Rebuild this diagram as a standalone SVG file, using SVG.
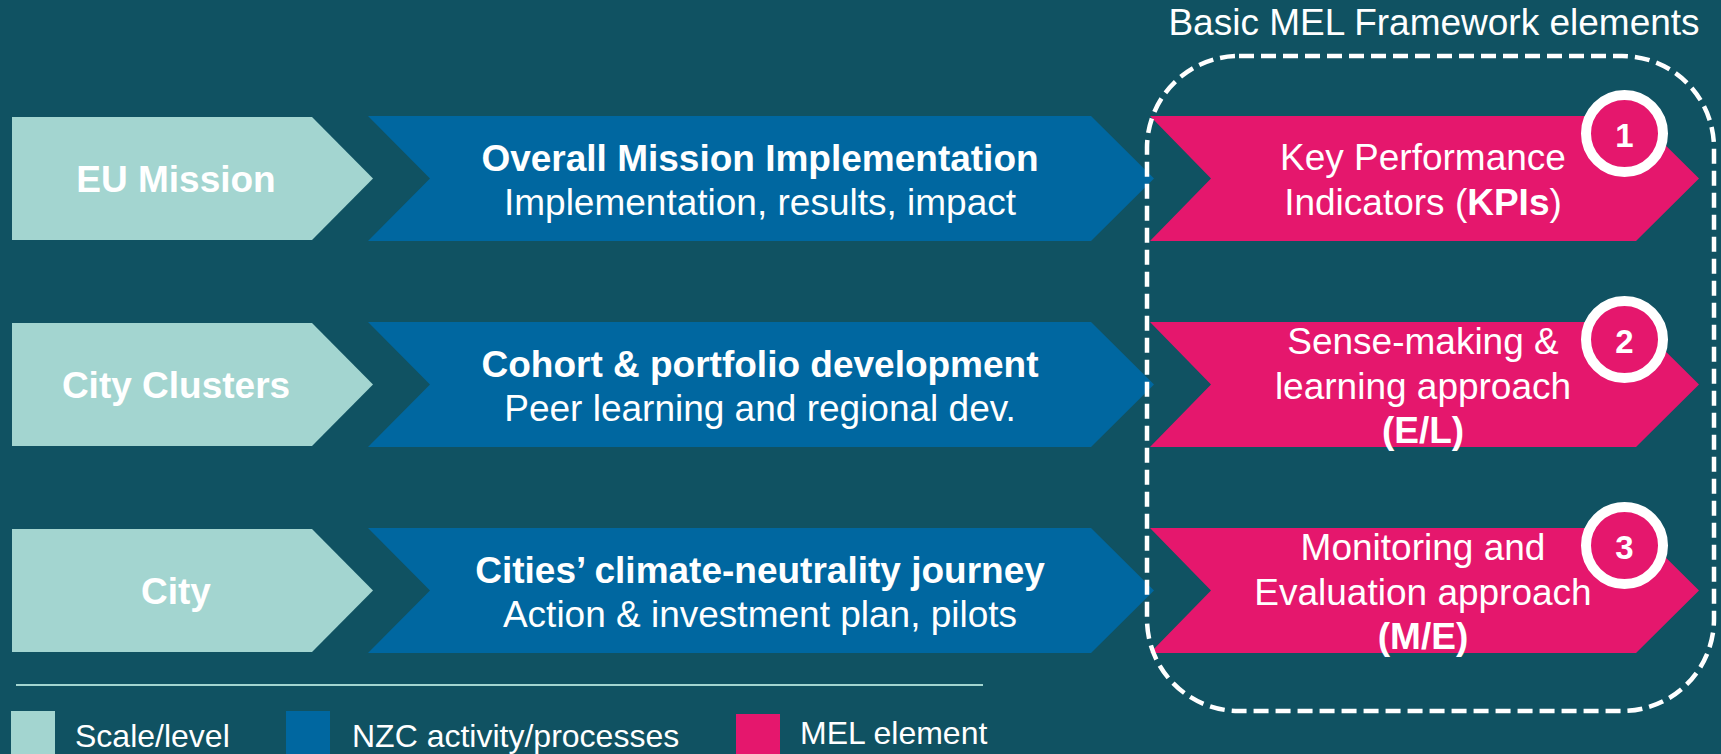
<svg xmlns="http://www.w3.org/2000/svg" width="1721" height="754" viewBox="0 0 1721 754">
<style>
.bg{fill:#105262}
.scale{fill:#A3D5D0}
.nzc{fill:#0067A0}
.mel{fill:#E5176D}
text{font-family:"Liberation Sans",Arial,sans-serif;fill:#FFFFFF;text-anchor:middle}
.t37{font-size:37px}
.b{font-weight:bold}
.leg{font-size:32px;text-anchor:start}
.num{font-size:33px;font-weight:bold}
.ring{fill:#E5176D;stroke:#FFFFFF;stroke-width:10}
.frame{fill:none;stroke:#FFFFFF;stroke-width:4.5;stroke-dasharray:15 7}
</style>
<defs>
<path id="tealShape" d="M12,117 L312,117 L373,178.5 L312,240 L12,240 Z"/>
<path id="blueShape" d="M368,116 L1091,116 L1154,178.5 L1091,241 L368,241 L430,178.5 Z"/>
<path id="pinkShape" d="M1150,116 L1636,116 L1699,178.5 L1636,241 L1150,241 L1211,178.5 Z"/>
</defs>
<rect class="bg" x="0" y="0" width="1721" height="754"/>

<text class="t37" x="1434" y="35">Basic MEL Framework elements</text>

<g id="eu-mission">
<use href="#tealShape" class="scale"/>
<text class="t37 b" x="176" y="192">EU Mission</text>
</g>
<g id="overall-mission">
<use href="#blueShape" class="nzc"/>
<text class="t37 b" x="760" y="171">Overall Mission Implementation</text>
<text class="t37" x="760" y="215">Implementation, results, impact</text>
</g>
<g id="kpis">
<use href="#pinkShape" class="mel"/>
<text class="t37" x="1423" y="170">Key Performance</text>
<text class="t37" x="1423" y="215">Indicators (<tspan class="b">KPIs</tspan>)</text>
</g>

<g id="city-clusters" transform="translate(0,206)">
<use href="#tealShape" class="scale"/>
<text class="t37 b" x="176" y="192">City Clusters</text>
</g>
<g id="cohort" transform="translate(0,206)">
<use href="#blueShape" class="nzc"/>
<text class="t37 b" x="760" y="171">Cohort &amp; portfolio development</text>
<text class="t37" x="760" y="215">Peer learning and regional dev.</text>
</g>
<g id="sense-making" transform="translate(0,206)">
<use href="#pinkShape" class="mel"/>
<text class="t37" x="1423" y="148">Sense-making &amp;</text>
<text class="t37" x="1423" y="193">learning approach</text>
<text class="t37 b" x="1423" y="237">(E/L)</text>
</g>

<g id="city" transform="translate(0,412)">
<use href="#tealShape" class="scale"/>
<text class="t37 b" x="176" y="192">City</text>
</g>
<g id="journey" transform="translate(0,412)">
<use href="#blueShape" class="nzc"/>
<text class="t37 b" x="760" y="171">Cities’ climate-neutrality journey</text>
<text class="t37" x="760" y="215">Action &amp; investment plan, pilots</text>
</g>
<g id="monitoring" transform="translate(0,412)">
<use href="#pinkShape" class="mel"/>
<text class="t37" x="1423" y="148">Monitoring and</text>
<text class="t37" x="1423" y="193">Evaluation approach</text>
<text class="t37 b" x="1423" y="237">(M/E)</text>
</g>

<g id="mel-frame">
<rect class="frame" x="1147" y="56" width="567" height="655" rx="92" ry="92"/>
</g>

<g id="badge-1">
<circle class="ring" cx="1624.5" cy="133.5" r="38.5"/>
<text class="num" x="1624.5" y="147">1</text>
</g>
<g id="badge-2">
<circle class="ring" cx="1624.5" cy="339.5" r="38.5"/>
<text class="num" x="1624.5" y="353">2</text>
</g>
<g id="badge-3">
<circle class="ring" cx="1624.5" cy="545.5" r="38.5"/>
<text class="num" x="1624.5" y="559">3</text>
</g>

<g id="legend">
<line x1="16" y1="685" x2="983" y2="685" stroke="#A3D5D0" stroke-width="2"/>
<rect class="scale" x="11" y="711" width="44" height="43"/>
<text class="leg" x="75" y="747">Scale/level</text>
<rect class="nzc" x="286" y="711" width="44" height="43"/>
<text class="leg" x="352" y="747">NZC activity/processes</text>
<rect class="mel" x="736" y="714" width="44" height="40"/>
<text class="leg" x="800" y="744">MEL element</text>
</g>
</svg>
